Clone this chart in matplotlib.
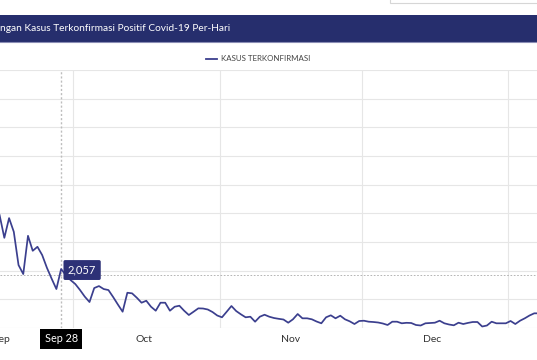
import matplotlib.pyplot as plt
import matplotlib.dates as mdates
from matplotlib.patches import Rectangle
import pandas as pd

# daily confirmed cases, 15 Sep 2020 .. 7 Jan 2021
start_date = '2020-09-15'
kasus = [3937, 3146, 3833, 3355, 2195, 1882, 3216, 2693, 2833, 2544, 2100, 1720, 1359,
         2057, 1847, 1672, 1533, 1324, 1094, 906, 1394, 1463, 1359, 1324, 1080, 819, 568,
         1230, 1209, 1056, 882, 951, 742, 603, 882, 882, 603, 742, 777, 603, 453, 568,
         686, 680, 645, 557, 436, 373, 568, 767, 592, 477, 373, 394, 220, 394, 463, 394,
         348, 320, 296, 185, 303, 488, 338, 338, 303, 226, 164, 373, 443, 338, 429, 303,
         233, 139, 244, 254, 220, 209, 192, 157, 105, 220, 220, 164, 181, 174, 105, 87,
         164, 174, 185, 254, 164, 122, 94, 185, 139, 178, 209, 209, 52, 87, 220, 164,
         164, 164, 244, 139, 254, 338, 436, 512, 512]
title = 'ngan Kasus Terkonfirmasi Positif Covid-19 Per-Hari'
legend_label = 'KASUS TERKONFIRMASI'
tooltip_date = '2020-09-28'
cursor_value = 1850

line_color = '#3b3f8e'
navy = '#262e6d'

dates = pd.date_range(start_date, periods=len(kasus), freq='D') + pd.Timedelta(hours=12)
tip_x = pd.Timestamp(tooltip_date) + pd.Timedelta(hours=12)
tip_y = kasus[list(dates).index(tip_x)]

W, H = 537, 360
fig = plt.figure(figsize=(W / 100, H / 100), dpi=100)

# main plot area
ax = fig.add_axes([0, (H - 328) / H, 1, 258 / H])
ax.plot(dates, kasus, color=line_color, lw=1.25, zorder=3)
ax.set_xlim(pd.Timestamp('2020-09-15 14:00'), pd.Timestamp('2021-01-07 02:00'))
ax.set_ylim(0, 9000)
ax.set_yticks(range(0, 9001, 1000))
ax.xaxis.set_major_locator(mdates.MonthLocator())
ax.xaxis.set_major_formatter(plt.NullFormatter())
ax.xaxis.set_minor_locator(mdates.MonthLocator(bymonthday=16))
ax.xaxis.set_minor_formatter(mdates.DateFormatter('%b'))
ax.tick_params(which='both', length=0, labelleft=False)
ax.tick_params(axis='x', which='minor', pad=5, labelsize=7.5, labelcolor='#333333')
for lab in ax.get_xticklabels(minor=True):
    lab.set_fontfamily('Lato')
ax.grid(True, which='major', color='#e6e6e6', lw=0.8)
for s in ax.spines.values():
    s.set_visible(False)

# cursor lines
ax.axvline(tip_x, color='#bdbdbd', ls=(0, (1.5, 1.5)), lw=1.0, zorder=2)
ax.axhline(cursor_value, color='#a8a8a8', ls=(0, (2, 2)), lw=0.6, zorder=2)

# tooltips
ax.annotate(f'{tip_y:,}', xy=(tip_x, tip_y), xytext=(21, -1), textcoords='offset pixels',
            ha='center', va='center', color='white', fontsize=8, fontfamily='Lato',
            bbox=dict(boxstyle='round,pad=0.4,rounding_size=0.15', fc='#2d3177', ec='none'),
            zorder=6, annotation_clip=False)
ax.annotate(pd.Timestamp(tooltip_date).strftime('%b %d').replace(' 0', ' '), xy=(tip_x, 0),
            xytext=(0, -11), textcoords='offset pixels', ha='center', va='center',
            color='white', fontsize=7.8, fontfamily='Lato',
            bbox=dict(boxstyle='square,pad=0.42', fc='black', ec='none'),
            zorder=6, annotation_clip=False)

# page chrome: header bar, legend, box in the corner
top = fig.add_axes([0, 0, 1, 1], zorder=5)
top.set_xlim(0, W)
top.set_ylim(H, 0)
top.axis('off')
top.patch.set_alpha(0)
top.add_patch(Rectangle((0, 15), W, 27, color=navy, lw=0))
top.plot([0, W], [42.3, 42.3], color='#8a8db5', lw=0.8)
top.text(0, 28.5, title, color='white', fontsize=7.25, va='center', ha='left', fontfamily='Lato')
top.add_patch(Rectangle((390, -5), 170, 8, fc='white', ec='#d6d6d6', lw=0.8))
top.plot([206, 217], [58.5, 58.5], color=line_color, lw=1.3)
top.text(221, 58.5, legend_label, fontsize=5.7, va='center', ha='left', color='#444444',
         fontfamily='Lato')

fig.savefig('out.png', dpi=100)
